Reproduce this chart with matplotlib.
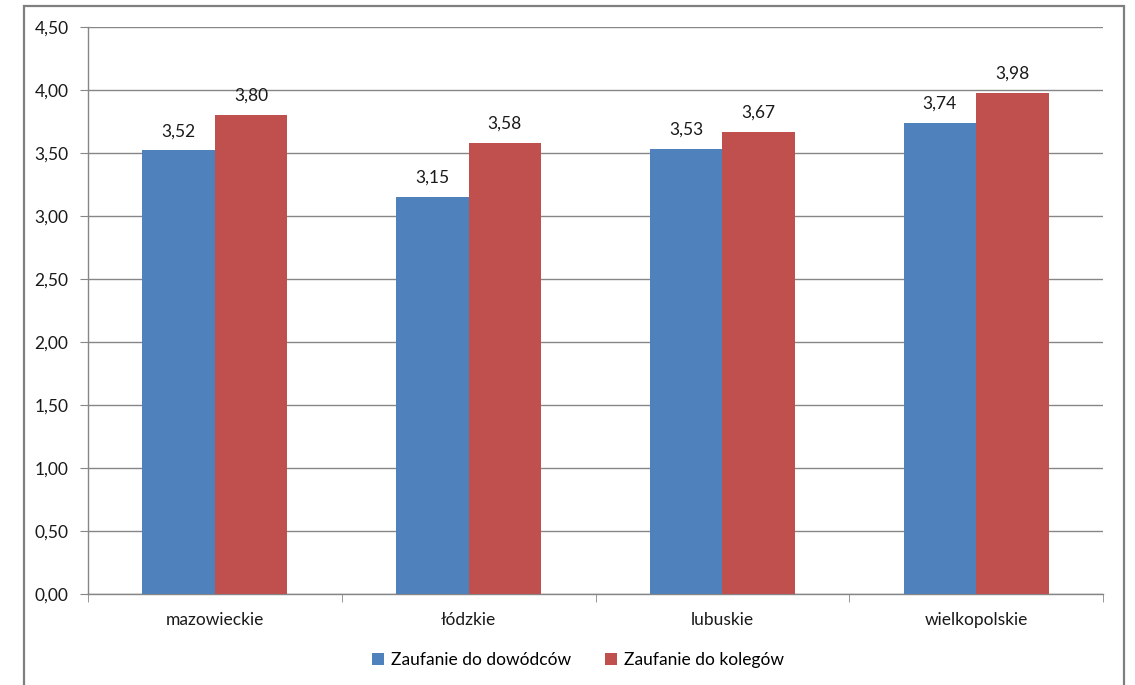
import numpy as np
import matplotlib.pyplot as plt
from matplotlib.patches import Rectangle

# Regions and mean trust scores
regions = ["mazowieckie", "łódzkie", "lubuskie", "wielkopolskie"]
trust_commanders = [3.52, 3.15, 3.53, 3.74]
trust_colleagues = [3.80, 3.58, 3.67, 3.98]
series_names = ["Zaufanie do dowódców", "Zaufanie do kolegów"]
y_ticks = [0.0, 0.5, 1.0, 1.5, 2.0, 2.5, 3.0, 3.5, 4.0, 4.5]

BLUE = "#4F81BD"
RED = "#C0504D"
GRID = "#868686"
FS = 12.5

plt.rcParams['font.family'] = ['Lato', 'DejaVu Sans']

fig = plt.figure(figsize=(11.35, 6.85), dpi=100)
W, H = 1135, 685

# outer frame of the chart
fig.patches.append(Rectangle((24 / W, -0.05), 1100 / W, 1.05 - 6 / H,
                             transform=fig.transFigure, fill=False,
                             edgecolor="#7F7F7F", linewidth=1.6))

ax = fig.add_axes([88 / W, 1 - 594 / H, (1103 - 88) / W, (594 - 27) / H])

x = np.arange(len(regions))
w = 1 / 3.5
b1 = ax.bar(x - w / 2, trust_commanders, w, color=BLUE, label=series_names[0], zorder=3)
b2 = ax.bar(x + w / 2, trust_colleagues, w, color=RED, label=series_names[1], zorder=3)

def fmt(v):
    return f"{v:.2f}".replace(".", ",")

for bars, vals in ((b1, trust_commanders), (b2, trust_colleagues)):
    for rect, v in zip(bars, vals):
        ax.annotate(fmt(v), (rect.get_x() + rect.get_width() / 2, v),
                    xytext=(0, 8), textcoords="offset points",
                    ha="center", va="bottom", fontsize=FS, color="#1a1a1a")

ax.set_xlim(-0.5, len(regions) - 0.5)
ax.set_ylim(0, 4.5)
ax.set_yticks(y_ticks)
ax.set_yticklabels([fmt(t) for t in y_ticks])
ax.yaxis.grid(True, color=GRID, linewidth=1, zorder=0)
ax.set_axisbelow(True)

# category labels centred, tick marks between categories
ax.set_xticks(x)
ax.set_xticklabels(regions)
ax.set_xticks(np.arange(-0.5, len(regions)), minor=True)
ax.tick_params(axis="x", which="major", length=0, pad=13, labelsize=FS, colors="#1a1a1a")
ax.tick_params(axis="x", which="minor", length=6, color=GRID, direction="out")
ax.tick_params(axis="y", length=6, color=GRID, pad=8, labelsize=FS, colors="#1a1a1a")

for s in ("top", "right"):
    ax.spines[s].set_visible(False)
for s in ("left", "bottom"):
    ax.spines[s].set_color(GRID)
    ax.spines[s].set_linewidth(1)

fig.legend(handles=[b1, b2], loc="center", bbox_to_anchor=(578 / W, 1 - 660 / H),
           ncol=2, frameon=False, fontsize=FS, handlelength=0.65, handleheight=0.65,
           handletextpad=0.4, columnspacing=2.0)

fig.savefig("out.png", dpi=100, facecolor="white")
